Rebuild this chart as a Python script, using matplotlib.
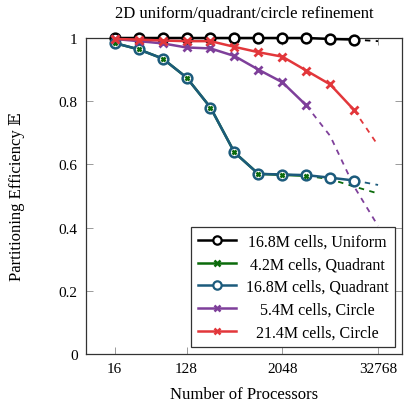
import matplotlib
matplotlib.use("Agg")
import matplotlib.pyplot as plt
from matplotlib.ticker import FixedLocator, FixedFormatter, NullLocator
from matplotlib.lines import Line2D

# ---------------- data ----------------
procs = [16, 32, 64, 128, 256, 512, 1024, 2048, 4096, 8192, 16384]

uniform_168 = [1.0, 1.0, 1.0, 1.0, 1.0, 1.0, 1.0, 1.0, 1.0, 0.997, 0.995]
uniform_168_proj_x = [16384, 32768]
uniform_168_proj = [0.995, 0.99]

quad_42_x = [16, 32, 64, 128, 256, 512, 1024, 2048, 4096]
quad_42 = [0.984, 0.964, 0.935, 0.875, 0.780, 0.638, 0.570, 0.567, 0.564]
quad_42_proj_x = [4096, 8192, 16384, 32768]
quad_42_proj = [0.564, 0.553, 0.530, 0.508]

quad_168 = [0.984, 0.964, 0.935, 0.875, 0.780, 0.638, 0.570, 0.568, 0.566, 0.558, 0.549]
quad_168_proj_x = [16384, 32768]
quad_168_proj = [0.549, 0.535]

circ_54_x = [16, 32, 64, 128, 256, 512, 1024, 2048, 4096]
circ_54 = [0.997, 0.990, 0.983, 0.970, 0.967, 0.943, 0.900, 0.860, 0.787]
circ_54_proj_x = [4096, 8192, 16384, 32768]
circ_54_proj = [0.787, 0.690, 0.530, 0.405]

circ_214 = [0.997, 0.995, 0.992, 0.990, 0.990, 0.972, 0.955, 0.941, 0.897, 0.853, 0.772]
circ_214_proj_x = [16384, 32768]
circ_214_proj = [0.772, 0.660]

labels = ["16.8M cells, Uniform", "4.2M cells, Quadrant", "16.8M cells, Quadrant",
          "5.4M cells, Circle", "21.4M cells, Circle"]
xticks = [16, 128, 2048, 32768]
xticklabels = ["16", "128", "2048", "32768"]
yticks = [0, 0.2, 0.4, 0.6, 0.8, 1.0]
yticklabels = ["0", "0.2", "0.4", "0.6", "0.8", "1"]

title = "2D uniform/quadrant/circle refinement"
xlabel = "Number of Processors"
ylabel = "Partitioning Efficiency \U0001D53C"

# ---------------- style ----------------
plt.rcParams['font.family'] = ['Liberation Serif', 'DejaVu Serif', 'DejaVu Sans']
plt.rcParams['font.size'] = 11

c_black = "#000000"
c_green = "#0b6b0b"
c_blue = "#1c5b7c"
c_purple = "#7e3f9a"
c_red = "#e2373b"

fig = plt.figure(figsize=(4.04, 4.10), dpi=100)
ax = fig.add_axes([86/404, 1 - 355/410, (402-86)/404, (355-39)/410])
ax.set_xscale('log', base=2)

lw = 1.8
dash = (3, 3)
kw = dict(clip_on=False)

# uniform
ax.plot(procs, uniform_168, color=c_black, lw=lw, marker='o', ms=7,
        mfc='white', mec=c_black, mew=1.8, zorder=3, **kw)
ax.plot(uniform_168_proj_x, uniform_168_proj, color=c_black, lw=1.3, ls=(0, dash), zorder=2)

# 4.2M quadrant (line under blue, markers on top)
ax.plot(quad_42_x, quad_42, color=c_green, lw=lw, zorder=3)
ax.plot(quad_42_proj_x, quad_42_proj, color=c_green, lw=1.3, ls=(0, dash), zorder=2)

# 16.8M quadrant
ax.plot(procs, quad_168, color=c_blue, lw=lw, marker='o', ms=7,
        mfc='white', mec=c_blue, mew=1.8, zorder=4, **kw)
ax.plot(quad_168_proj_x, quad_168_proj, color=c_blue, lw=1.3, ls=(0, dash), zorder=2)
ax.plot(quad_42_x, quad_42, color=c_green, lw=0, marker='x', ms=3.5, mew=1.8, zorder=5, **kw)

# 5.4M circle
ax.plot(circ_54_x, circ_54, color=c_purple, lw=lw, marker='x', ms=5.5, mew=2, zorder=6, **kw)
ax.plot(circ_54_proj_x, circ_54_proj, color=c_purple, lw=1.3, ls=(0, dash), zorder=2)

# 21.4M circle
ax.plot(procs, circ_214, color=c_red, lw=lw, marker='x', ms=5.5, mew=2, zorder=7, **kw)
ax.plot(circ_214_proj_x, circ_214_proj, color=c_red, lw=1.3, ls=(0, dash), zorder=2)

handles = [
    Line2D([], [], color=c_black, lw=lw, marker='o', ms=6, mfc='white', mec=c_black, mew=1.6),
    Line2D([], [], color=c_green, lw=lw, marker='x', ms=4, mew=1.8),
    Line2D([], [], color=c_blue, lw=lw, marker='o', ms=6, mfc='white', mec=c_blue, mew=1.6),
    Line2D([], [], color=c_purple, lw=lw, marker='x', ms=4, mew=1.8),
    Line2D([], [], color=c_red, lw=lw, marker='x', ms=4, mew=1.8),
]

ax.set_xlim(2**2.8, 2**16)
ax.set_ylim(0, 1)
ax.xaxis.set_major_locator(FixedLocator(xticks))
ax.xaxis.set_major_formatter(FixedFormatter(xticklabels))
ax.xaxis.set_minor_locator(NullLocator())
ax.yaxis.set_major_locator(FixedLocator(yticks))
ax.yaxis.set_major_formatter(FixedFormatter(yticklabels))
ax.tick_params(direction='in', length=5, width=0.7, color='#9a9a9a',
               top=True, right=True, labelsize=11, pad=6)
for s in ax.spines.values():
    s.set_linewidth(0.9)
    s.set_color('#333333')

ax.set_title(title, fontsize=12, pad=15)
ax.set_xlabel(xlabel, fontsize=12, labelpad=8)
ax.set_ylabel(ylabel, fontsize=12, labelpad=24)

leg = ax.legend(handles, labels, loc='lower right', bbox_to_anchor=(0.978, 0.022),
                borderaxespad=0, fancybox=False, framealpha=1, edgecolor='#333333',
                handlelength=2.4, handletextpad=0.6, labelspacing=0.42, fontsize=11.5,
                borderpad=0.42)
leg.get_frame().set_linewidth(0.9)
leg.set_zorder(10)

# centre legend texts within the text column
fig.canvas.draw()
texts = leg.get_texts()
widths = [t.get_window_extent().width for t in texts]
wmax = max(widths)
for t, w in zip(texts, widths):
    t.set_position(((wmax - w) / 2, 0))

fig.savefig("out.png", dpi=100)
